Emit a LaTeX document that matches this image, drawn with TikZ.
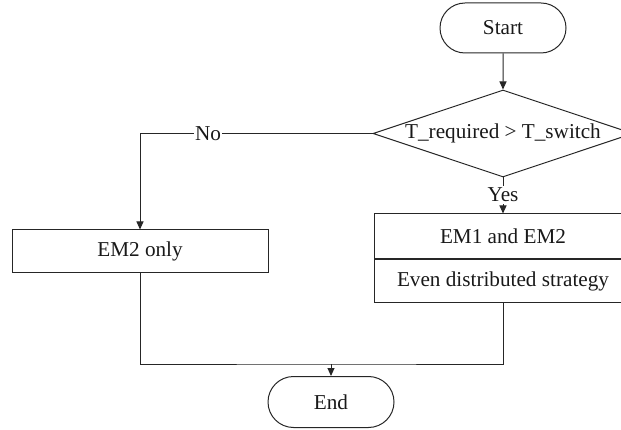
\documentclass[tikz,border=0pt]{standalone}
\usepackage{fontspec}
\setmainfont{Liberation Serif}
\usetikzlibrary{shapes.misc,shapes.geometric,arrows.meta}
\begin{document}
\begin{tikzpicture}[x=1pt,y=-1pt,
  line width=1pt,draw=black!85,
  every node/.style={font=\fontsize{21.2}{24}\selectfont,text=black!90},
  term/.style={draw=black!85,rounded rectangle,minimum width=126pt,minimum height=50pt,inner sep=0pt},
  procbox/.style={draw=black!85,rectangle,inner sep=0pt},
  lbl/.style={fill=white,inner sep=1.5pt},
  arr/.style={-{Triangle[length=8pt,width=7pt]}}]
\useasboundingbox (0,0) rectangle (621,430);
% terminals
\node[term] (start) at (503,28) {Start};
\node[term,minimum height=51pt] (end) at (331,402) {End};
% decision
\node[draw=black!85,diamond,minimum width=260pt,minimum height=87pt,inner sep=0pt] (dec) at (503,133.5) {};
\node (dectext) at (503,133.5) {T\_required > T\_switch};
% processes
\node[procbox,minimum width=256pt,minimum height=43pt] (em2) at (140,251.5) {EM2 only};
\node[procbox,minimum width=258pt,minimum height=45pt] (both) at (503,236.5) {EM1 and EM2};
\node[procbox,minimum width=258pt,minimum height=43pt,anchor=north] (even) at (both.south) {Even distributed strategy};
% connectors
\coordinate (nocorner) at (140,133.5);
\coordinate (merge) at (331,364);
\draw[arr] (start) -- (dec.north);
\draw[arr] (dec.west) -- (nocorner) -- (em2.north);
\node[lbl] (nolbl) at (208,133.5) {No};
\draw[arr] (dec.south) -- (both.north);
\node[lbl] (yeslbl) at (503,195) {Yes};
\draw (em2.south) |- (merge) -| (even.south);
\draw[arr] (merge) -- (end.north);
\end{tikzpicture}
\end{document}
